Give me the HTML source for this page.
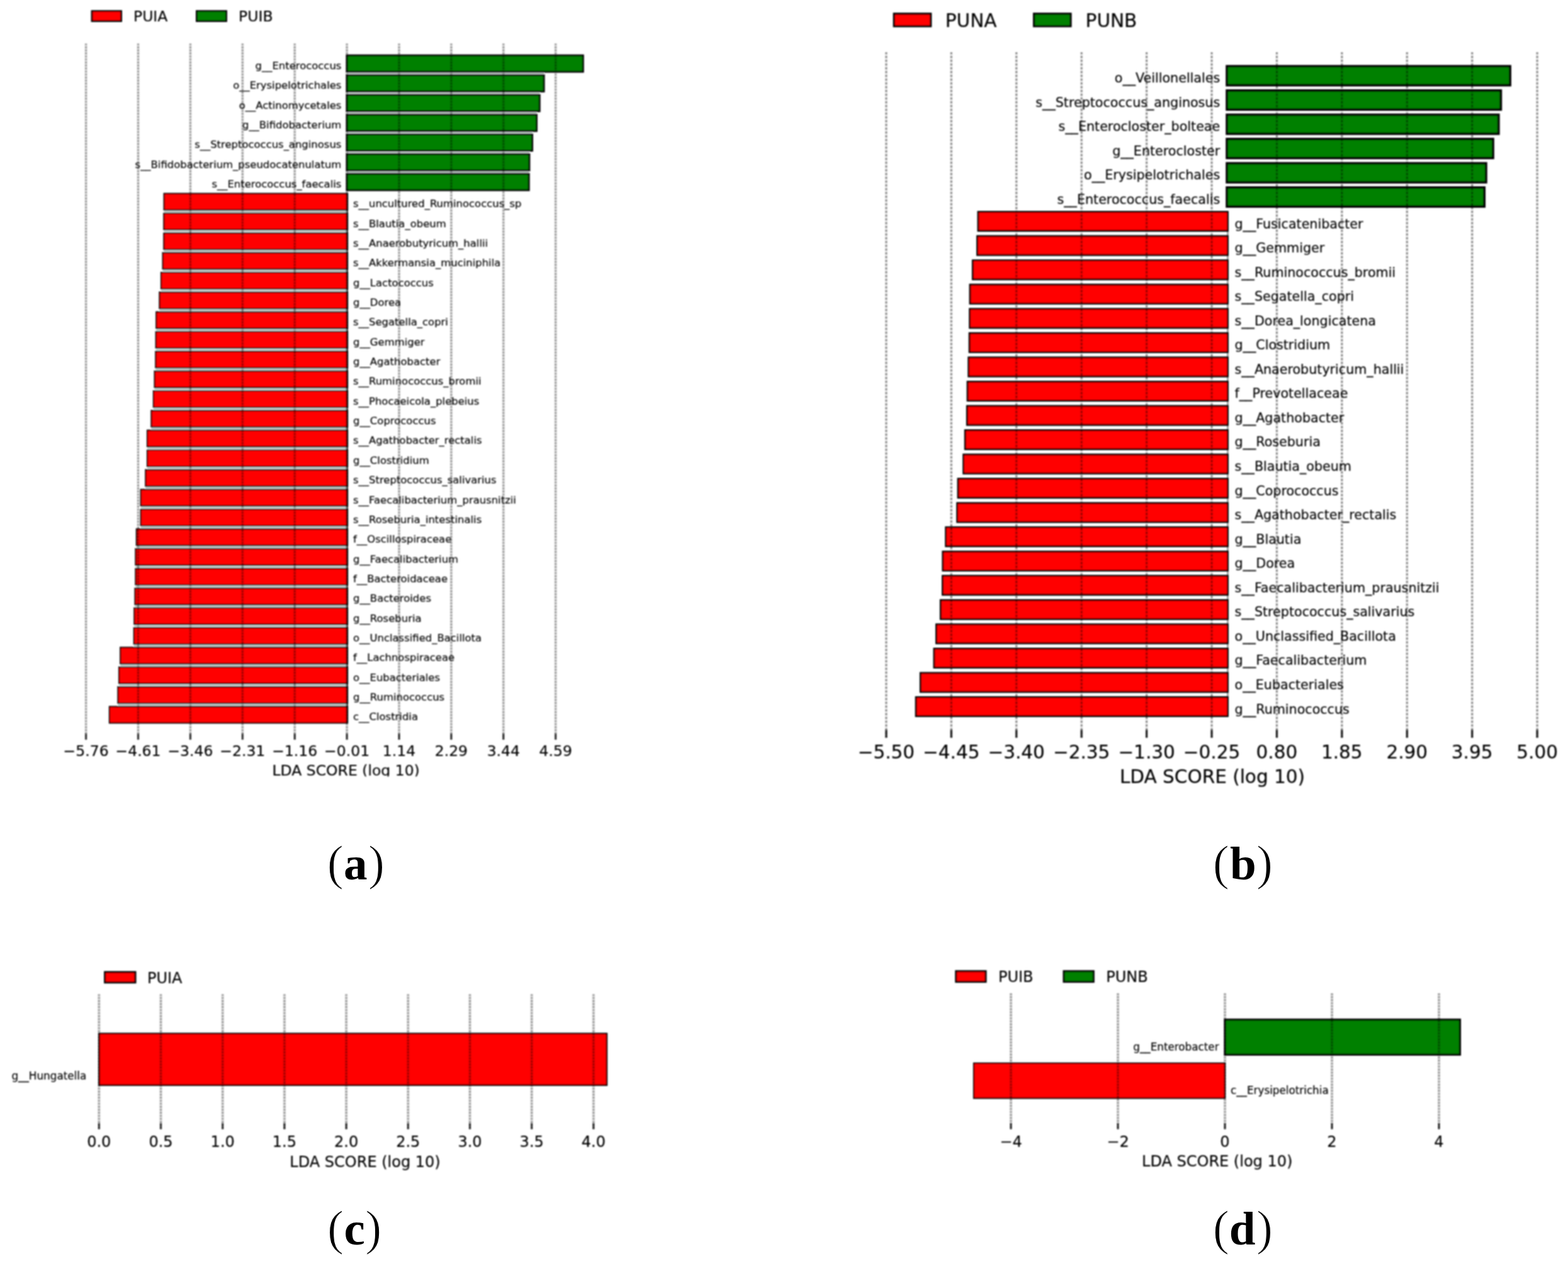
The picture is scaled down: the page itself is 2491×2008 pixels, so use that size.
<!DOCTYPE html>
<html lang="en"><head><meta charset="utf-8"><title>LEfSe LDA score plots</title>
<style>
html,body{margin:0;padding:0;background:#fff;}
body{width:2491px;height:2008px;overflow:hidden;}
svg{display:block;}
.t{font-family:"DejaVu Sans", "Liberation Sans", sans-serif;fill:#000;stroke:#000;stroke-width:0.2px;}
.l{font-family:"DejaVu Sans", "Liberation Sans", sans-serif;fill:#000;stroke:#000;stroke-width:0.2px;}
.cap{font-family:"Liberation Serif", "DejaVu Serif", serif;font-weight:bold;fill:#000;}
.par{font-weight:normal;stroke:#fff;stroke-width:1.1px;}
.grid{stroke:#000;fill:none;}
.gbase{stroke:#000;fill:none;}
.tick{stroke:#111;fill:none;}
</style></head><body>
<svg width="2491" height="2008" viewBox="0 0 2491 2008">
<defs>
<clipPath id="clipa"><rect x="0" y="0" width="1250" height="1233.5"/></clipPath>
<filter id="soft" x="-2%" y="-2%" width="104%" height="104%"><feGaussianBlur stdDeviation="0.9"/></filter>
<filter id="softb" x="-2%" y="-2%" width="104%" height="104%"><feGaussianBlur stdDeviation="0.95"/></filter>
</defs>
<rect x="0" y="0" width="2491" height="2008" fill="#fff"/>
<g filter="url(#soft)">
<g class="panel" id="pa">
<rect x="146.0" y="17.6" width="46.6" height="15.9" fill="#ff0000" stroke="#000" stroke-width="2.8"/>
<text x="212.0" y="33.7" font-size="23.5" text-anchor="start" class="t">PUIA</text>
<rect x="312.4" y="17.6" width="47.1" height="15.9" fill="#008000" stroke="#000" stroke-width="2.8"/>
<text x="379.1" y="33.7" font-size="23.5" text-anchor="start" class="t">PUIB</text>
<rect x="551.2" y="114.0" width="312.9" height="5.3" fill="#cdd8d6"/>
<rect x="551.2" y="145.3" width="306.0" height="5.3" fill="#cdd8d6"/>
<rect x="551.2" y="176.7" width="301.3" height="5.4" fill="#cdd8d6"/>
<rect x="551.2" y="208.1" width="294.4" height="5.3" fill="#cdd8d6"/>
<rect x="551.2" y="239.4" width="289.7" height="5.3" fill="#cdd8d6"/>
<rect x="551.2" y="270.8" width="289.0" height="5.4" fill="#cdd8d6"/>
<rect x="260.6" y="333.5" width="290.6" height="5.3" fill="#cdd8d6"/>
<rect x="260.3" y="364.8" width="290.9" height="5.4" fill="#cdd8d6"/>
<rect x="260.3" y="396.2" width="290.9" height="5.3" fill="#cdd8d6"/>
<rect x="258.6" y="427.5" width="292.6" height="5.4" fill="#cdd8d6"/>
<rect x="256.0" y="458.9" width="295.2" height="5.4" fill="#cdd8d6"/>
<rect x="253.4" y="490.2" width="297.8" height="5.3" fill="#cdd8d6"/>
<rect x="248.2" y="521.5" width="303.0" height="5.4" fill="#cdd8d6"/>
<rect x="247.7" y="552.9" width="303.5" height="5.3" fill="#cdd8d6"/>
<rect x="247.3" y="584.2" width="303.9" height="5.4" fill="#cdd8d6"/>
<rect x="245.6" y="615.6" width="305.6" height="5.4" fill="#cdd8d6"/>
<rect x="243.9" y="647.0" width="307.3" height="5.4" fill="#cdd8d6"/>
<rect x="240.4" y="678.3" width="310.8" height="5.3" fill="#cdd8d6"/>
<rect x="234.0" y="709.6" width="317.2" height="5.4" fill="#cdd8d6"/>
<rect x="234.0" y="741.0" width="317.2" height="5.4" fill="#cdd8d6"/>
<rect x="231.3" y="772.4" width="319.9" height="5.4" fill="#cdd8d6"/>
<rect x="223.7" y="803.7" width="327.5" height="5.4" fill="#cdd8d6"/>
<rect x="223.7" y="835.1" width="327.5" height="5.4" fill="#cdd8d6"/>
<rect x="216.8" y="866.4" width="334.4" height="5.3" fill="#cdd8d6"/>
<rect x="215.4" y="897.8" width="335.8" height="5.4" fill="#cdd8d6"/>
<rect x="215.4" y="929.1" width="335.8" height="5.4" fill="#cdd8d6"/>
<rect x="214.5" y="960.5" width="336.7" height="5.4" fill="#cdd8d6"/>
<rect x="213.3" y="991.8" width="337.9" height="5.4" fill="#cdd8d6"/>
<rect x="212.8" y="1023.2" width="338.4" height="5.3" fill="#cdd8d6"/>
<rect x="191.2" y="1054.5" width="360.0" height="5.3" fill="#cdd8d6"/>
<rect x="189.1" y="1085.8" width="362.1" height="5.4" fill="#cdd8d6"/>
<rect x="187.4" y="1117.2" width="363.8" height="5.3" fill="#cdd8d6"/>
<rect x="551.0" y="88.0" width="375.3" height="26.0" fill="#008000" stroke="#000" stroke-width="2.9"/>
<rect x="551.0" y="119.3" width="313.1" height="26.0" fill="#008000" stroke="#000" stroke-width="2.9"/>
<rect x="551.0" y="150.7" width="306.2" height="26.0" fill="#008000" stroke="#000" stroke-width="2.9"/>
<rect x="551.0" y="182.1" width="301.5" height="26.0" fill="#008000" stroke="#000" stroke-width="2.9"/>
<rect x="551.0" y="213.4" width="294.6" height="26.0" fill="#008000" stroke="#000" stroke-width="2.9"/>
<rect x="551.0" y="244.8" width="289.9" height="26.0" fill="#008000" stroke="#000" stroke-width="2.9"/>
<rect x="551.0" y="276.1" width="289.2" height="26.0" fill="#008000" stroke="#000" stroke-width="2.9"/>
<rect x="260.6" y="307.5" width="291.5" height="26.0" fill="#ff0000" stroke="#000" stroke-width="2.1"/>
<rect x="260.3" y="338.8" width="291.8" height="26.0" fill="#ff0000" stroke="#000" stroke-width="2.1"/>
<rect x="260.3" y="370.2" width="291.8" height="26.0" fill="#ff0000" stroke="#000" stroke-width="2.1"/>
<rect x="258.6" y="401.5" width="293.5" height="26.0" fill="#ff0000" stroke="#000" stroke-width="2.1"/>
<rect x="256.0" y="432.9" width="296.1" height="26.0" fill="#ff0000" stroke="#000" stroke-width="2.1"/>
<rect x="253.4" y="464.2" width="298.7" height="26.0" fill="#ff0000" stroke="#000" stroke-width="2.1"/>
<rect x="248.2" y="495.6" width="303.9" height="26.0" fill="#ff0000" stroke="#000" stroke-width="2.1"/>
<rect x="247.7" y="526.9" width="304.4" height="26.0" fill="#ff0000" stroke="#000" stroke-width="2.1"/>
<rect x="247.3" y="558.2" width="304.8" height="26.0" fill="#ff0000" stroke="#000" stroke-width="2.1"/>
<rect x="245.6" y="589.6" width="306.5" height="26.0" fill="#ff0000" stroke="#000" stroke-width="2.1"/>
<rect x="243.9" y="621.0" width="308.2" height="26.0" fill="#ff0000" stroke="#000" stroke-width="2.1"/>
<rect x="240.4" y="652.3" width="311.7" height="26.0" fill="#ff0000" stroke="#000" stroke-width="2.1"/>
<rect x="234.0" y="683.6" width="318.1" height="26.0" fill="#ff0000" stroke="#000" stroke-width="2.1"/>
<rect x="234.0" y="715.0" width="318.1" height="26.0" fill="#ff0000" stroke="#000" stroke-width="2.1"/>
<rect x="231.3" y="746.4" width="320.8" height="26.0" fill="#ff0000" stroke="#000" stroke-width="2.1"/>
<rect x="223.7" y="777.7" width="328.4" height="26.0" fill="#ff0000" stroke="#000" stroke-width="2.1"/>
<rect x="223.7" y="809.1" width="328.4" height="26.0" fill="#ff0000" stroke="#000" stroke-width="2.1"/>
<rect x="216.8" y="840.4" width="335.3" height="26.0" fill="#ff0000" stroke="#000" stroke-width="2.1"/>
<rect x="215.4" y="871.8" width="336.7" height="26.0" fill="#ff0000" stroke="#000" stroke-width="2.1"/>
<rect x="215.4" y="903.1" width="336.7" height="26.0" fill="#ff0000" stroke="#000" stroke-width="2.1"/>
<rect x="214.5" y="934.5" width="337.6" height="26.0" fill="#ff0000" stroke="#000" stroke-width="2.1"/>
<rect x="213.3" y="965.8" width="338.8" height="26.0" fill="#ff0000" stroke="#000" stroke-width="2.1"/>
<rect x="212.8" y="997.2" width="339.3" height="26.0" fill="#ff0000" stroke="#000" stroke-width="2.1"/>
<rect x="191.2" y="1028.5" width="360.9" height="26.0" fill="#ff0000" stroke="#000" stroke-width="2.1"/>
<rect x="189.1" y="1059.8" width="363.0" height="26.0" fill="#ff0000" stroke="#000" stroke-width="2.1"/>
<rect x="187.4" y="1091.2" width="364.7" height="26.0" fill="#ff0000" stroke="#000" stroke-width="2.1"/>
<rect x="173.9" y="1122.5" width="378.2" height="26.0" fill="#ff0000" stroke="#000" stroke-width="2.1"/>
<line x1="551.4" y1="307.5" x2="551.4" y2="1148.5" stroke="#000" stroke-opacity="0.8" stroke-width="2.6"/>
<line x1="136.6" y1="69.2" x2="136.6" y2="1175.0" class="gbase" stroke-opacity="0.14" stroke-width="3.90"/>
<line x1="136.6" y1="69.2" x2="136.6" y2="1175.0" class="grid" stroke-opacity="0.34" stroke-width="3.0" stroke-dasharray="2.4 2.4"/>
<line x1="136.6" y1="1165.4" x2="136.6" y2="1175.0" class="tick" stroke-width="2.4"/>
<line x1="219.5" y1="69.2" x2="219.5" y2="1175.0" class="gbase" stroke-opacity="0.14" stroke-width="3.90"/>
<line x1="219.5" y1="69.2" x2="219.5" y2="1175.0" class="grid" stroke-opacity="0.34" stroke-width="3.0" stroke-dasharray="2.4 2.4"/>
<line x1="219.5" y1="1165.4" x2="219.5" y2="1175.0" class="tick" stroke-width="2.4"/>
<line x1="302.4" y1="69.2" x2="302.4" y2="1175.0" class="gbase" stroke-opacity="0.14" stroke-width="3.90"/>
<line x1="302.4" y1="69.2" x2="302.4" y2="1175.0" class="grid" stroke-opacity="0.34" stroke-width="3.0" stroke-dasharray="2.4 2.4"/>
<line x1="302.4" y1="1165.4" x2="302.4" y2="1175.0" class="tick" stroke-width="2.4"/>
<line x1="385.3" y1="69.2" x2="385.3" y2="1175.0" class="gbase" stroke-opacity="0.14" stroke-width="3.90"/>
<line x1="385.3" y1="69.2" x2="385.3" y2="1175.0" class="grid" stroke-opacity="0.34" stroke-width="3.0" stroke-dasharray="2.4 2.4"/>
<line x1="385.3" y1="1165.4" x2="385.3" y2="1175.0" class="tick" stroke-width="2.4"/>
<line x1="468.2" y1="69.2" x2="468.2" y2="1175.0" class="gbase" stroke-opacity="0.14" stroke-width="3.90"/>
<line x1="468.2" y1="69.2" x2="468.2" y2="1175.0" class="grid" stroke-opacity="0.34" stroke-width="3.0" stroke-dasharray="2.4 2.4"/>
<line x1="468.2" y1="1165.4" x2="468.2" y2="1175.0" class="tick" stroke-width="2.4"/>
<line x1="551.1" y1="69.2" x2="551.1" y2="1175.0" class="gbase" stroke-opacity="0.14" stroke-width="3.90"/>
<line x1="551.1" y1="69.2" x2="551.1" y2="1175.0" class="grid" stroke-opacity="0.34" stroke-width="3.0" stroke-dasharray="2.4 2.4"/>
<line x1="551.1" y1="1165.4" x2="551.1" y2="1175.0" class="tick" stroke-width="2.4"/>
<line x1="634.0" y1="69.2" x2="634.0" y2="1175.0" class="gbase" stroke-opacity="0.14" stroke-width="3.90"/>
<line x1="634.0" y1="69.2" x2="634.0" y2="1175.0" class="grid" stroke-opacity="0.34" stroke-width="3.0" stroke-dasharray="2.4 2.4"/>
<line x1="634.0" y1="1165.4" x2="634.0" y2="1175.0" class="tick" stroke-width="2.4"/>
<line x1="716.9" y1="69.2" x2="716.9" y2="1175.0" class="gbase" stroke-opacity="0.14" stroke-width="3.90"/>
<line x1="716.9" y1="69.2" x2="716.9" y2="1175.0" class="grid" stroke-opacity="0.34" stroke-width="3.0" stroke-dasharray="2.4 2.4"/>
<line x1="716.9" y1="1165.4" x2="716.9" y2="1175.0" class="tick" stroke-width="2.4"/>
<line x1="799.8" y1="69.2" x2="799.8" y2="1175.0" class="gbase" stroke-opacity="0.14" stroke-width="3.90"/>
<line x1="799.8" y1="69.2" x2="799.8" y2="1175.0" class="grid" stroke-opacity="0.34" stroke-width="3.0" stroke-dasharray="2.4 2.4"/>
<line x1="799.8" y1="1165.4" x2="799.8" y2="1175.0" class="tick" stroke-width="2.4"/>
<line x1="882.7" y1="69.2" x2="882.7" y2="1175.0" class="gbase" stroke-opacity="0.14" stroke-width="3.90"/>
<line x1="882.7" y1="69.2" x2="882.7" y2="1175.0" class="grid" stroke-opacity="0.34" stroke-width="3.0" stroke-dasharray="2.4 2.4"/>
<line x1="882.7" y1="1165.4" x2="882.7" y2="1175.0" class="tick" stroke-width="2.4"/>
<text x="542.4" y="109.8" font-size="16.45" text-anchor="end" class="l">g__Enterococcus</text>
<text x="542.4" y="141.2" font-size="16.45" text-anchor="end" class="l">o__Erysipelotrichales</text>
<text x="542.4" y="172.5" font-size="16.45" text-anchor="end" class="l">o__Actinomycetales</text>
<text x="542.4" y="203.9" font-size="16.45" text-anchor="end" class="l">g__Bifidobacterium</text>
<text x="542.4" y="235.2" font-size="16.45" text-anchor="end" class="l">s__Streptococcus_anginosus</text>
<text x="542.4" y="266.6" font-size="16.45" text-anchor="end" class="l">s__Bifidobacterium_pseudocatenulatum</text>
<text x="542.4" y="297.9" font-size="16.45" text-anchor="end" class="l">s__Enterococcus_faecalis</text>
<text x="561.0" y="329.3" font-size="16.45" text-anchor="start" class="l">s__uncultured_Ruminococcus_sp</text>
<text x="561.0" y="360.6" font-size="16.45" text-anchor="start" class="l">s__Blautia_obeum</text>
<text x="561.0" y="392.0" font-size="16.45" text-anchor="start" class="l">s__Anaerobutyricum_hallii</text>
<text x="561.0" y="423.3" font-size="16.45" text-anchor="start" class="l">s__Akkermansia_muciniphila</text>
<text x="561.0" y="454.7" font-size="16.45" text-anchor="start" class="l">g__Lactococcus</text>
<text x="561.0" y="486.0" font-size="16.45" text-anchor="start" class="l">g__Dorea</text>
<text x="561.0" y="517.4" font-size="16.45" text-anchor="start" class="l">s__Segatella_copri</text>
<text x="561.0" y="548.7" font-size="16.45" text-anchor="start" class="l">g__Gemmiger</text>
<text x="561.0" y="580.0" font-size="16.45" text-anchor="start" class="l">g__Agathobacter</text>
<text x="561.0" y="611.4" font-size="16.45" text-anchor="start" class="l">s__Ruminococcus_bromii</text>
<text x="561.0" y="642.8" font-size="16.45" text-anchor="start" class="l">s__Phocaeicola_plebeius</text>
<text x="561.0" y="674.1" font-size="16.45" text-anchor="start" class="l">g__Coprococcus</text>
<text x="561.0" y="705.4" font-size="16.45" text-anchor="start" class="l">s__Agathobacter_rectalis</text>
<text x="561.0" y="736.8" font-size="16.45" text-anchor="start" class="l">g__Clostridium</text>
<text x="561.0" y="768.1" font-size="16.45" text-anchor="start" class="l">s__Streptococcus_salivarius</text>
<text x="561.0" y="799.5" font-size="16.45" text-anchor="start" class="l">s__Faecalibacterium_prausnitzii</text>
<text x="561.0" y="830.9" font-size="16.45" text-anchor="start" class="l">s__Roseburia_intestinalis</text>
<text x="561.0" y="862.2" font-size="16.45" text-anchor="start" class="l">f__Oscillospiraceae</text>
<text x="561.0" y="893.5" font-size="16.45" text-anchor="start" class="l">g__Faecalibacterium</text>
<text x="561.0" y="924.9" font-size="16.45" text-anchor="start" class="l">f__Bacteroidaceae</text>
<text x="561.0" y="956.2" font-size="16.45" text-anchor="start" class="l">g__Bacteroides</text>
<text x="561.0" y="987.6" font-size="16.45" text-anchor="start" class="l">g__Roseburia</text>
<text x="561.0" y="1019.0" font-size="16.45" text-anchor="start" class="l">o__Unclassified_Bacillota</text>
<text x="561.0" y="1050.3" font-size="16.45" text-anchor="start" class="l">f__Lachnospiraceae</text>
<text x="561.0" y="1081.6" font-size="16.45" text-anchor="start" class="l">o__Eubacteriales</text>
<text x="561.0" y="1113.0" font-size="16.45" text-anchor="start" class="l">g__Ruminococcus</text>
<text x="561.0" y="1144.3" font-size="16.45" text-anchor="start" class="l">c__Clostridia</text>
<text x="136.6" y="1201.4" font-size="23.5" text-anchor="middle" class="t">−5.76</text>
<text x="219.5" y="1201.4" font-size="23.5" text-anchor="middle" class="t">−4.61</text>
<text x="302.4" y="1201.4" font-size="23.5" text-anchor="middle" class="t">−3.46</text>
<text x="385.3" y="1201.4" font-size="23.5" text-anchor="middle" class="t">−2.31</text>
<text x="468.2" y="1201.4" font-size="23.5" text-anchor="middle" class="t">−1.16</text>
<text x="551.1" y="1201.4" font-size="23.5" text-anchor="middle" class="t">−0.01</text>
<text x="634.0" y="1201.4" font-size="23.5" text-anchor="middle" class="t">1.14</text>
<text x="716.9" y="1201.4" font-size="23.5" text-anchor="middle" class="t">2.29</text>
<text x="799.8" y="1201.4" font-size="23.5" text-anchor="middle" class="t">3.44</text>
<text x="882.7" y="1201.4" font-size="23.5" text-anchor="middle" class="t">4.59</text>
<text x="549.6" y="1231.6" font-size="23.5" text-anchor="middle" class="t" clip-path="url(#clipa)">LDA SCORE (log 10)</text>
</g>
</g>
<g filter="url(#softb)">
<g class="panel" id="pb">
<rect x="1420.3" y="21.8" width="58.3" height="19.8" fill="#ff0000" stroke="#000" stroke-width="3.3"/>
<text x="1501.8" y="42.6" font-size="29.5" text-anchor="start" class="t">PUNA</text>
<rect x="1642.6" y="21.8" width="58.3" height="19.8" fill="#008000" stroke="#000" stroke-width="3.3"/>
<text x="1724.6" y="42.6" font-size="29.5" text-anchor="start" class="t">PUNB</text>
<rect x="1949.1" y="105.2" width="449.9" height="30.2" fill="#008000" stroke="#000" stroke-width="3.8"/>
<rect x="1949.1" y="143.8" width="435.2" height="30.2" fill="#008000" stroke="#000" stroke-width="3.8"/>
<rect x="1949.1" y="182.3" width="431.6" height="30.2" fill="#008000" stroke="#000" stroke-width="3.8"/>
<rect x="1949.1" y="220.8" width="422.8" height="30.2" fill="#008000" stroke="#000" stroke-width="3.8"/>
<rect x="1949.1" y="259.4" width="411.7" height="30.2" fill="#008000" stroke="#000" stroke-width="3.8"/>
<rect x="1949.1" y="297.9" width="409.0" height="30.2" fill="#008000" stroke="#000" stroke-width="3.8"/>
<rect x="1553.9" y="336.5" width="396.5" height="30.2" fill="#ff0000" stroke="#000" stroke-width="2.8"/>
<rect x="1552.5" y="375.0" width="397.9" height="30.2" fill="#ff0000" stroke="#000" stroke-width="2.8"/>
<rect x="1545.3" y="413.6" width="405.1" height="30.2" fill="#ff0000" stroke="#000" stroke-width="2.8"/>
<rect x="1541.0" y="452.1" width="409.4" height="30.2" fill="#ff0000" stroke="#000" stroke-width="2.8"/>
<rect x="1540.6" y="490.7" width="409.8" height="30.2" fill="#ff0000" stroke="#000" stroke-width="2.8"/>
<rect x="1540.1" y="529.2" width="410.3" height="30.2" fill="#ff0000" stroke="#000" stroke-width="2.8"/>
<rect x="1538.7" y="567.8" width="411.7" height="30.2" fill="#ff0000" stroke="#000" stroke-width="2.8"/>
<rect x="1537.0" y="606.3" width="413.4" height="30.2" fill="#ff0000" stroke="#000" stroke-width="2.8"/>
<rect x="1536.3" y="644.9" width="414.1" height="30.2" fill="#ff0000" stroke="#000" stroke-width="2.8"/>
<rect x="1533.2" y="683.4" width="417.2" height="30.2" fill="#ff0000" stroke="#000" stroke-width="2.8"/>
<rect x="1530.6" y="722.0" width="419.8" height="30.2" fill="#ff0000" stroke="#000" stroke-width="2.8"/>
<rect x="1522.0" y="760.5" width="428.4" height="30.2" fill="#ff0000" stroke="#000" stroke-width="2.8"/>
<rect x="1520.6" y="799.1" width="429.8" height="30.2" fill="#ff0000" stroke="#000" stroke-width="2.8"/>
<rect x="1502.6" y="837.6" width="447.8" height="30.2" fill="#ff0000" stroke="#000" stroke-width="2.8"/>
<rect x="1497.8" y="876.2" width="452.6" height="30.2" fill="#ff0000" stroke="#000" stroke-width="2.8"/>
<rect x="1497.4" y="914.7" width="453.0" height="30.2" fill="#ff0000" stroke="#000" stroke-width="2.8"/>
<rect x="1494.3" y="953.3" width="456.1" height="30.2" fill="#ff0000" stroke="#000" stroke-width="2.8"/>
<rect x="1487.4" y="991.8" width="463.0" height="30.2" fill="#ff0000" stroke="#000" stroke-width="2.8"/>
<rect x="1483.9" y="1030.4" width="466.5" height="30.2" fill="#ff0000" stroke="#000" stroke-width="2.8"/>
<rect x="1462.3" y="1069.0" width="488.1" height="30.2" fill="#ff0000" stroke="#000" stroke-width="2.8"/>
<rect x="1455.1" y="1107.5" width="495.3" height="30.2" fill="#ff0000" stroke="#000" stroke-width="2.8"/>
<line x1="1950.4" y1="336.5" x2="1950.4" y2="1137.7" stroke="#000" stroke-opacity="0.5" stroke-width="2.2"/>
<line x1="1407.9" y1="83.0" x2="1407.9" y2="1172.0" class="gbase" stroke-opacity="0.1" stroke-width="3.77"/>
<line x1="1407.9" y1="83.0" x2="1407.9" y2="1172.0" class="grid" stroke-opacity="0.42" stroke-width="2.9" stroke-dasharray="3 3"/>
<line x1="1407.9" y1="1159.5" x2="1407.9" y2="1172.0" class="tick" stroke-width="2.9"/>
<line x1="1511.3" y1="83.0" x2="1511.3" y2="1172.0" class="gbase" stroke-opacity="0.1" stroke-width="3.77"/>
<line x1="1511.3" y1="83.0" x2="1511.3" y2="1172.0" class="grid" stroke-opacity="0.42" stroke-width="2.9" stroke-dasharray="3 3"/>
<line x1="1511.3" y1="1159.5" x2="1511.3" y2="1172.0" class="tick" stroke-width="2.9"/>
<line x1="1614.7" y1="83.0" x2="1614.7" y2="1172.0" class="gbase" stroke-opacity="0.1" stroke-width="3.77"/>
<line x1="1614.7" y1="83.0" x2="1614.7" y2="1172.0" class="grid" stroke-opacity="0.42" stroke-width="2.9" stroke-dasharray="3 3"/>
<line x1="1614.7" y1="1159.5" x2="1614.7" y2="1172.0" class="tick" stroke-width="2.9"/>
<line x1="1718.2" y1="83.0" x2="1718.2" y2="1172.0" class="gbase" stroke-opacity="0.1" stroke-width="3.77"/>
<line x1="1718.2" y1="83.0" x2="1718.2" y2="1172.0" class="grid" stroke-opacity="0.42" stroke-width="2.9" stroke-dasharray="3 3"/>
<line x1="1718.2" y1="1159.5" x2="1718.2" y2="1172.0" class="tick" stroke-width="2.9"/>
<line x1="1821.6" y1="83.0" x2="1821.6" y2="1172.0" class="gbase" stroke-opacity="0.1" stroke-width="3.77"/>
<line x1="1821.6" y1="83.0" x2="1821.6" y2="1172.0" class="grid" stroke-opacity="0.42" stroke-width="2.9" stroke-dasharray="3 3"/>
<line x1="1821.6" y1="1159.5" x2="1821.6" y2="1172.0" class="tick" stroke-width="2.9"/>
<line x1="1925.0" y1="83.0" x2="1925.0" y2="1172.0" class="gbase" stroke-opacity="0.1" stroke-width="3.77"/>
<line x1="1925.0" y1="83.0" x2="1925.0" y2="1172.0" class="grid" stroke-opacity="0.42" stroke-width="2.9" stroke-dasharray="3 3"/>
<line x1="1925.0" y1="1159.5" x2="1925.0" y2="1172.0" class="tick" stroke-width="2.9"/>
<line x1="2028.4" y1="83.0" x2="2028.4" y2="1172.0" class="gbase" stroke-opacity="0.1" stroke-width="3.77"/>
<line x1="2028.4" y1="83.0" x2="2028.4" y2="1172.0" class="grid" stroke-opacity="0.42" stroke-width="2.9" stroke-dasharray="3 3"/>
<line x1="2028.4" y1="1159.5" x2="2028.4" y2="1172.0" class="tick" stroke-width="2.9"/>
<line x1="2131.8" y1="83.0" x2="2131.8" y2="1172.0" class="gbase" stroke-opacity="0.1" stroke-width="3.77"/>
<line x1="2131.8" y1="83.0" x2="2131.8" y2="1172.0" class="grid" stroke-opacity="0.42" stroke-width="2.9" stroke-dasharray="3 3"/>
<line x1="2131.8" y1="1159.5" x2="2131.8" y2="1172.0" class="tick" stroke-width="2.9"/>
<line x1="2235.3" y1="83.0" x2="2235.3" y2="1172.0" class="gbase" stroke-opacity="0.1" stroke-width="3.77"/>
<line x1="2235.3" y1="83.0" x2="2235.3" y2="1172.0" class="grid" stroke-opacity="0.42" stroke-width="2.9" stroke-dasharray="3 3"/>
<line x1="2235.3" y1="1159.5" x2="2235.3" y2="1172.0" class="tick" stroke-width="2.9"/>
<line x1="2338.7" y1="83.0" x2="2338.7" y2="1172.0" class="gbase" stroke-opacity="0.1" stroke-width="3.77"/>
<line x1="2338.7" y1="83.0" x2="2338.7" y2="1172.0" class="grid" stroke-opacity="0.42" stroke-width="2.9" stroke-dasharray="3 3"/>
<line x1="2338.7" y1="1159.5" x2="2338.7" y2="1172.0" class="tick" stroke-width="2.9"/>
<line x1="2442.1" y1="83.0" x2="2442.1" y2="1172.0" class="gbase" stroke-opacity="0.1" stroke-width="3.77"/>
<line x1="2442.1" y1="83.0" x2="2442.1" y2="1172.0" class="grid" stroke-opacity="0.42" stroke-width="2.9" stroke-dasharray="3 3"/>
<line x1="2442.1" y1="1159.5" x2="2442.1" y2="1172.0" class="tick" stroke-width="2.9"/>
<text x="1938.2" y="131.2" font-size="20.65" text-anchor="end" class="l">o__Veillonellales</text>
<text x="1938.2" y="169.8" font-size="20.65" text-anchor="end" class="l">s__Streptococcus_anginosus</text>
<text x="1938.2" y="208.3" font-size="20.65" text-anchor="end" class="l">s__Enterocloster_bolteae</text>
<text x="1938.2" y="246.8" font-size="20.65" text-anchor="end" class="l">g__Enterocloster</text>
<text x="1938.2" y="285.4" font-size="20.65" text-anchor="end" class="l">o__Erysipelotrichales</text>
<text x="1938.2" y="323.9" font-size="20.65" text-anchor="end" class="l">s__Enterococcus_faecalis</text>
<text x="1961.5" y="362.5" font-size="20.65" text-anchor="start" class="l">g__Fusicatenibacter</text>
<text x="1961.5" y="401.0" font-size="20.65" text-anchor="start" class="l">g__Gemmiger</text>
<text x="1961.5" y="439.6" font-size="20.65" text-anchor="start" class="l">s__Ruminococcus_bromii</text>
<text x="1961.5" y="478.1" font-size="20.65" text-anchor="start" class="l">s__Segatella_copri</text>
<text x="1961.5" y="516.7" font-size="20.65" text-anchor="start" class="l">s__Dorea_longicatena</text>
<text x="1961.5" y="555.2" font-size="20.65" text-anchor="start" class="l">g__Clostridium</text>
<text x="1961.5" y="593.8" font-size="20.65" text-anchor="start" class="l">s__Anaerobutyricum_hallii</text>
<text x="1961.5" y="632.3" font-size="20.65" text-anchor="start" class="l">f__Prevotellaceae</text>
<text x="1961.5" y="670.9" font-size="20.65" text-anchor="start" class="l">g__Agathobacter</text>
<text x="1961.5" y="709.4" font-size="20.65" text-anchor="start" class="l">g__Roseburia</text>
<text x="1961.5" y="748.0" font-size="20.65" text-anchor="start" class="l">s__Blautia_obeum</text>
<text x="1961.5" y="786.5" font-size="20.65" text-anchor="start" class="l">g__Coprococcus</text>
<text x="1961.5" y="825.1" font-size="20.65" text-anchor="start" class="l">s__Agathobacter_rectalis</text>
<text x="1961.5" y="863.6" font-size="20.65" text-anchor="start" class="l">g__Blautia</text>
<text x="1961.5" y="902.2" font-size="20.65" text-anchor="start" class="l">g__Dorea</text>
<text x="1961.5" y="940.7" font-size="20.65" text-anchor="start" class="l">s__Faecalibacterium_prausnitzii</text>
<text x="1961.5" y="979.3" font-size="20.65" text-anchor="start" class="l">s__Streptococcus_salivarius</text>
<text x="1961.5" y="1017.8" font-size="20.65" text-anchor="start" class="l">o__Unclassified_Bacillota</text>
<text x="1961.5" y="1056.4" font-size="20.65" text-anchor="start" class="l">g__Faecalibacterium</text>
<text x="1961.5" y="1095.0" font-size="20.65" text-anchor="start" class="l">o__Eubacteriales</text>
<text x="1961.5" y="1133.5" font-size="20.65" text-anchor="start" class="l">g__Ruminococcus</text>
<text x="1407.9" y="1205.3" font-size="29.5" text-anchor="middle" class="t">−5.50</text>
<text x="1511.3" y="1205.3" font-size="29.5" text-anchor="middle" class="t">−4.45</text>
<text x="1614.7" y="1205.3" font-size="29.5" text-anchor="middle" class="t">−3.40</text>
<text x="1718.2" y="1205.3" font-size="29.5" text-anchor="middle" class="t">−2.35</text>
<text x="1821.6" y="1205.3" font-size="29.5" text-anchor="middle" class="t">−1.30</text>
<text x="1925.0" y="1205.3" font-size="29.5" text-anchor="middle" class="t">−0.25</text>
<text x="2028.4" y="1205.3" font-size="29.5" text-anchor="middle" class="t">0.80</text>
<text x="2131.8" y="1205.3" font-size="29.5" text-anchor="middle" class="t">1.85</text>
<text x="2235.3" y="1205.3" font-size="29.5" text-anchor="middle" class="t">2.90</text>
<text x="2338.7" y="1205.3" font-size="29.5" text-anchor="middle" class="t">3.95</text>
<text x="2442.1" y="1205.3" font-size="29.5" text-anchor="middle" class="t">5.00</text>
<text x="1926.0" y="1243.6" font-size="29.5" text-anchor="middle" class="t">LDA SCORE (log 10)</text>
</g>
</g>
<g filter="url(#soft)">
<g class="panel" id="pc">
<rect x="166.6" y="1544.2" width="48.4" height="16.6" fill="#ff0000" stroke="#000" stroke-width="3.0"/>
<text x="234.0" y="1561.8" font-size="24" text-anchor="start" class="t">PUIA</text>
<rect x="157.4" y="1641.9" width="806.6" height="82.0" fill="#ff0000" stroke="#000" stroke-width="2.4"/>
<line x1="157.3" y1="1579.4" x2="157.3" y2="1793.9" class="gbase" stroke-opacity="0.14" stroke-width="4.16"/>
<line x1="157.3" y1="1579.4" x2="157.3" y2="1793.9" class="grid" stroke-opacity="0.34" stroke-width="3.2" stroke-dasharray="2.4 2.4"/>
<line x1="157.3" y1="1784.3" x2="157.3" y2="1793.9" class="tick" stroke-width="2.4"/>
<line x1="255.5" y1="1579.4" x2="255.5" y2="1793.9" class="gbase" stroke-opacity="0.14" stroke-width="4.16"/>
<line x1="255.5" y1="1579.4" x2="255.5" y2="1793.9" class="grid" stroke-opacity="0.34" stroke-width="3.2" stroke-dasharray="2.4 2.4"/>
<line x1="255.5" y1="1784.3" x2="255.5" y2="1793.9" class="tick" stroke-width="2.4"/>
<line x1="353.7" y1="1579.4" x2="353.7" y2="1793.9" class="gbase" stroke-opacity="0.14" stroke-width="4.16"/>
<line x1="353.7" y1="1579.4" x2="353.7" y2="1793.9" class="grid" stroke-opacity="0.34" stroke-width="3.2" stroke-dasharray="2.4 2.4"/>
<line x1="353.7" y1="1784.3" x2="353.7" y2="1793.9" class="tick" stroke-width="2.4"/>
<line x1="451.9" y1="1579.4" x2="451.9" y2="1793.9" class="gbase" stroke-opacity="0.14" stroke-width="4.16"/>
<line x1="451.9" y1="1579.4" x2="451.9" y2="1793.9" class="grid" stroke-opacity="0.34" stroke-width="3.2" stroke-dasharray="2.4 2.4"/>
<line x1="451.9" y1="1784.3" x2="451.9" y2="1793.9" class="tick" stroke-width="2.4"/>
<line x1="550.1" y1="1579.4" x2="550.1" y2="1793.9" class="gbase" stroke-opacity="0.14" stroke-width="4.16"/>
<line x1="550.1" y1="1579.4" x2="550.1" y2="1793.9" class="grid" stroke-opacity="0.34" stroke-width="3.2" stroke-dasharray="2.4 2.4"/>
<line x1="550.1" y1="1784.3" x2="550.1" y2="1793.9" class="tick" stroke-width="2.4"/>
<line x1="648.3" y1="1579.4" x2="648.3" y2="1793.9" class="gbase" stroke-opacity="0.14" stroke-width="4.16"/>
<line x1="648.3" y1="1579.4" x2="648.3" y2="1793.9" class="grid" stroke-opacity="0.34" stroke-width="3.2" stroke-dasharray="2.4 2.4"/>
<line x1="648.3" y1="1784.3" x2="648.3" y2="1793.9" class="tick" stroke-width="2.4"/>
<line x1="746.5" y1="1579.4" x2="746.5" y2="1793.9" class="gbase" stroke-opacity="0.14" stroke-width="4.16"/>
<line x1="746.5" y1="1579.4" x2="746.5" y2="1793.9" class="grid" stroke-opacity="0.34" stroke-width="3.2" stroke-dasharray="2.4 2.4"/>
<line x1="746.5" y1="1784.3" x2="746.5" y2="1793.9" class="tick" stroke-width="2.4"/>
<line x1="844.7" y1="1579.4" x2="844.7" y2="1793.9" class="gbase" stroke-opacity="0.14" stroke-width="4.16"/>
<line x1="844.7" y1="1579.4" x2="844.7" y2="1793.9" class="grid" stroke-opacity="0.34" stroke-width="3.2" stroke-dasharray="2.4 2.4"/>
<line x1="844.7" y1="1784.3" x2="844.7" y2="1793.9" class="tick" stroke-width="2.4"/>
<line x1="942.9" y1="1579.4" x2="942.9" y2="1793.9" class="gbase" stroke-opacity="0.14" stroke-width="4.16"/>
<line x1="942.9" y1="1579.4" x2="942.9" y2="1793.9" class="grid" stroke-opacity="0.34" stroke-width="3.2" stroke-dasharray="2.4 2.4"/>
<line x1="942.9" y1="1784.3" x2="942.9" y2="1793.9" class="tick" stroke-width="2.4"/>
<text x="137.2" y="1714.7" font-size="16.8" text-anchor="end" class="l">g__Hungatella</text>
<text x="157.3" y="1822.3" font-size="24" text-anchor="middle" class="t">0.0</text>
<text x="255.5" y="1822.3" font-size="24" text-anchor="middle" class="t">0.5</text>
<text x="353.7" y="1822.3" font-size="24" text-anchor="middle" class="t">1.0</text>
<text x="451.9" y="1822.3" font-size="24" text-anchor="middle" class="t">1.5</text>
<text x="550.1" y="1822.3" font-size="24" text-anchor="middle" class="t">2.0</text>
<text x="648.3" y="1822.3" font-size="24" text-anchor="middle" class="t">2.5</text>
<text x="746.5" y="1822.3" font-size="24" text-anchor="middle" class="t">3.0</text>
<text x="844.7" y="1822.3" font-size="24" text-anchor="middle" class="t">3.5</text>
<text x="942.9" y="1822.3" font-size="24" text-anchor="middle" class="t">4.0</text>
<text x="580.0" y="1853.8" font-size="24" text-anchor="middle" class="t">LDA SCORE (log 10)</text>
</g>
</g>
<g filter="url(#soft)">
<g class="panel" id="pd">
<rect x="1518.7" y="1542.8" width="47.3" height="16.9" fill="#ff0000" stroke="#000" stroke-width="3.0"/>
<text x="1586.0" y="1559.7" font-size="24" text-anchor="start" class="t">PUIB</text>
<rect x="1690.0" y="1542.8" width="47.3" height="16.9" fill="#008000" stroke="#000" stroke-width="3.0"/>
<text x="1757.3" y="1559.7" font-size="24" text-anchor="start" class="t">PUNB</text>
<rect x="1946.0" y="1619.8" width="373.4" height="55.6" fill="#008000" stroke="#000" stroke-width="3.2"/>
<rect x="1547.0" y="1689.0" width="399.0" height="55.6" fill="#ff0000" stroke="#000" stroke-width="2.2"/>
<line x1="1606.0" y1="1578.0" x2="1606.0" y2="1793.9" class="gbase" stroke-opacity="0.14" stroke-width="4.16"/>
<line x1="1606.0" y1="1578.0" x2="1606.0" y2="1793.9" class="grid" stroke-opacity="0.34" stroke-width="3.2" stroke-dasharray="2.4 2.4"/>
<line x1="1606.0" y1="1784.3" x2="1606.0" y2="1793.9" class="tick" stroke-width="2.4"/>
<line x1="1776.0" y1="1578.0" x2="1776.0" y2="1793.9" class="gbase" stroke-opacity="0.14" stroke-width="4.16"/>
<line x1="1776.0" y1="1578.0" x2="1776.0" y2="1793.9" class="grid" stroke-opacity="0.34" stroke-width="3.2" stroke-dasharray="2.4 2.4"/>
<line x1="1776.0" y1="1784.3" x2="1776.0" y2="1793.9" class="tick" stroke-width="2.4"/>
<line x1="1946.0" y1="1578.0" x2="1946.0" y2="1793.9" class="gbase" stroke-opacity="0.14" stroke-width="4.16"/>
<line x1="1946.0" y1="1578.0" x2="1946.0" y2="1793.9" class="grid" stroke-opacity="0.34" stroke-width="3.2" stroke-dasharray="2.4 2.4"/>
<line x1="1946.0" y1="1784.3" x2="1946.0" y2="1793.9" class="tick" stroke-width="2.4"/>
<line x1="2116.0" y1="1578.0" x2="2116.0" y2="1793.9" class="gbase" stroke-opacity="0.14" stroke-width="4.16"/>
<line x1="2116.0" y1="1578.0" x2="2116.0" y2="1793.9" class="grid" stroke-opacity="0.34" stroke-width="3.2" stroke-dasharray="2.4 2.4"/>
<line x1="2116.0" y1="1784.3" x2="2116.0" y2="1793.9" class="tick" stroke-width="2.4"/>
<line x1="2286.0" y1="1578.0" x2="2286.0" y2="1793.9" class="gbase" stroke-opacity="0.14" stroke-width="4.16"/>
<line x1="2286.0" y1="1578.0" x2="2286.0" y2="1793.9" class="grid" stroke-opacity="0.34" stroke-width="3.2" stroke-dasharray="2.4 2.4"/>
<line x1="2286.0" y1="1784.3" x2="2286.0" y2="1793.9" class="tick" stroke-width="2.4"/>
<text x="1936.6" y="1669.0" font-size="16.8" text-anchor="end" class="l">g__Enterobacter</text>
<text x="1955.0" y="1738.2" font-size="16.8" text-anchor="start" class="l">c__Erysipelotrichia</text>
<text x="1606.0" y="1821.7" font-size="24" text-anchor="middle" class="t">−4</text>
<text x="1776.0" y="1821.7" font-size="24" text-anchor="middle" class="t">−2</text>
<text x="1946.0" y="1821.7" font-size="24" text-anchor="middle" class="t">0</text>
<text x="2116.0" y="1821.7" font-size="24" text-anchor="middle" class="t">2</text>
<text x="2286.0" y="1821.7" font-size="24" text-anchor="middle" class="t">4</text>
<text x="1933.7" y="1853.2" font-size="24" text-anchor="middle" class="t">LDA SCORE (log 10)</text>
</g>
</g>
<text y="1396.9" font-size="75" class="cap"><tspan x="519.80" font-size="78" class="par">(</tspan><tspan x="546.00">a</tspan><tspan x="584.90" font-size="78" class="par">)</tspan></text>
<text y="1397.2" font-size="75" class="cap"><tspan x="1926.75" font-size="78" class="par">(</tspan><tspan x="1953.90">b</tspan><tspan x="1995.95" font-size="78" class="par">)</tspan></text>
<text y="1976.8" font-size="75" class="cap"><tspan x="520.10" font-size="78" class="par">(</tspan><tspan x="546.50">c</tspan><tspan x="580.30" font-size="78" class="par">)</tspan></text>
<text y="1976.8" font-size="75" class="cap"><tspan x="1926.75" font-size="78" class="par">(</tspan><tspan x="1952.75">d</tspan><tspan x="1995.95" font-size="78" class="par">)</tspan></text>
</svg>
</body></html>
